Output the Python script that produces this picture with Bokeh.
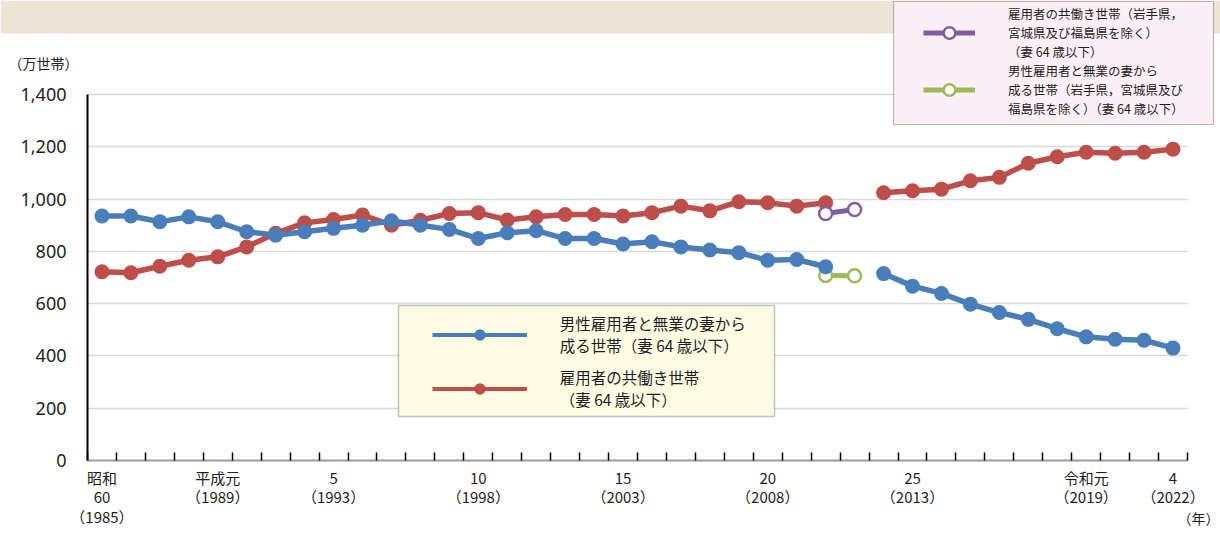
from bokeh.plotting import figure
from bokeh.models import (FixedTicker, NumeralTickFormatter, Legend, LegendItem,
                          BoxAnnotation, Label, Range1d)
from bokeh.embed import file_html
from bokeh.resources import INLINE

nan = float("nan")

# ---------------- data ----------------
years = list(range(1985, 2023))
housewife = [935, 935, 913, 932, 913, 875, 862, 875, 888, 900, 917, 900, 884,
             849, 871, 879, 849, 849, 828, 837, 817, 805, 795, 766, 769, 741,
             nan, 715, 667, 639, 598, 566, 540, 504, 473, 464, 460, 430]
dual_earner = [722, 718, 743, 766, 779, 817, 869, 909, 922, 939, 900, 919, 945,
               948, 920, 932, 941, 941, 935, 948, 973, 955, 990, 986, 973, 986,
               nan, 1024, 1032, 1038, 1070, 1083, 1137, 1162, 1179, 1175, 1179, 1191]
years_excl = [2010, 2011]
dual_excl = [945, 960]
housewife_excl = [708, 707]

y_ticks = [0, 200, 400, 600, 800, 1000, 1200, 1400]
label_years = [1985, 1989, 1993, 1998, 2003, 2008, 2013, 2019, 2022]
label_era = ["昭和\n60", "平成元", "5", "10", "15", "20", "25", "令和元", "4"]

name_housewife = "男性雇用者と無業の妻から\n成る世帯（妻 64 歳以下）"
name_dual = "雇用者の共働き世帯\n（妻 64 歳以下）"
name_dual_excl = "雇用者の共働き世帯（岩手県，\n宮城県及び福島県を除く）\n（妻 64 歳以下）"
name_housewife_excl = "男性雇用者と無業の妻から\n成る世帯（岩手県，宮城県及び\n福島県を除く）（妻 64 歳以下）"

# ---------------- style ----------------
BLUE = "#4A7EBB"
RED = "#BE4E4A"
PURPLE = "#7F5FA1"
GREEN = "#9BBB59"
TXT = "#1E1E1E"
JP = "Noto Sans CJK JP"

W, H = 1220, 533
# pixel helpers: plot area spans x 87..1187 (38 years) and y 460..94 (0..1400)
X0, XPX = 87.0, 1100.0 / 38.0
Y0, YPX = 460.0, 366.0 / 1400.0
def sx(px):
    return 1984.5 + (px - X0) / XPX
def sy(py):
    return (Y0 - py) / YPX

X_FIRST, X_LAST = years[0] - 0.5, years[-1] + 0.5

p = figure(width=W, height=H,
           x_range=Range1d(sx(0), sx(W)), y_range=Range1d(sy(H), sy(0)),
           output_backend="svg", toolbar_location=None, tools="",
           min_border=0, outline_line_color=None,
           background_fill_color="white", border_fill_color="white")

# x axis: boundary ticks as minor ticks, era labels as major labels
xa = p.xaxis[0]
xa.fixed_location = 0
xa.bounds = (X_FIRST, X_LAST)
xa.ticker = FixedTicker(ticks=label_years,
                        minor_ticks=[X_FIRST + k for k in range(len(years) + 1)])
xa.major_label_overrides = {yr: "%s\n（%d）" % (era, yr)
                            for yr, era in zip(label_years, label_era)}
xa.major_tick_line_color = None
xa.major_tick_in = 0
xa.major_tick_out = 0
xa.minor_tick_in = 8
xa.minor_tick_out = 0
xa.minor_tick_line_color = "black"
xa.minor_tick_line_width = 1.5
xa.axis_line_color = "#A0A0A0"
xa.axis_line_width = 2
xa.major_label_standoff = 6
xa.major_label_text_font = JP
xa.major_label_text_font_size = "15px"
xa.major_label_text_line_height = 0.95
xa.major_label_text_color = TXT

ya = p.yaxis[0]
ya.fixed_location = X_FIRST
ya.bounds = (y_ticks[0], y_ticks[-1])
ya.ticker = FixedTicker(ticks=y_ticks)
ya.formatter = NumeralTickFormatter(format="0,0")
ya.major_tick_in = 0
ya.major_tick_out = 0
ya.minor_tick_line_color = None
ya.axis_line_color = "black"
ya.axis_line_width = 2
ya.major_label_standoff = 21
ya.major_label_text_font = "Noto Sans"
ya.major_label_text_font_size = "18px"
ya.major_label_text_color = TXT

p.xgrid.visible = False
grid = p.ygrid[0]
grid.ticker = FixedTicker(ticks=y_ticks)
grid.grid_line_color = "#D9D9D9"
grid.grid_line_width = 1.5
if "cross_bounds" in grid.properties():
    grid.cross_bounds = (X_FIRST, X_LAST)
else:
    grid.visible = False
    p.segment(x0=[X_FIRST] * len(y_ticks), x1=[X_LAST] * len(y_ticks),
              y0=y_ticks, y1=y_ticks, line_color="#D9D9D9", line_width=1.5,
              level="underlay")

# background band + legend boxes
p.add_layout(BoxAnnotation(bottom=sy(33), fill_color="#EDE6D6", fill_alpha=1,
                           line_color=None, level="underlay"))
p.add_layout(BoxAnnotation(left=sx(893), right=sx(1213), top=sy(1), bottom=sy(124),
                           fill_color="#FCEFF6", fill_alpha=1, line_color="#222222",
                           line_width=1.2))
p.add_layout(BoxAnnotation(left=sx(398), right=sx(774), top=sy(305), bottom=sy(416),
                           fill_color="#FEFDE4", fill_alpha=1, line_color="#3A3A3A",
                           line_width=1.5))

# series
g_line = p.line(years_excl, housewife_excl, line_color=GREEN, line_width=5)
g_pts = p.scatter(years_excl, housewife_excl, size=13, fill_color="white",
                  line_color=GREEN, line_width=2.5)
p.line(years, dual_earner, line_color=RED, line_width=5.5)
p.scatter(years, dual_earner, size=15, fill_color=RED, line_color=None)
pu_line = p.line(years_excl, dual_excl, line_color=PURPLE, line_width=5)
pu_pts = p.scatter(years_excl, dual_excl, size=13, fill_color="white",
                   line_color=PURPLE, line_width=2.5)
p.line(years, housewife, line_color=BLUE, line_width=5.5)
p.scatter(years, housewife, size=15, fill_color=BLUE, line_color=None)

# legend sample renderers (hidden; styled like the reference legend swatches)
lb_line = p.line(years, housewife, line_color=BLUE, line_width=4, visible=False)
lb_dot = p.scatter(years, housewife, fill_color=BLUE, line_color=None, visible=False)
lr_line = p.line(years, dual_earner, line_color=RED, line_width=4, visible=False)
lr_dot = p.scatter(years, dual_earner, fill_color=RED, line_color=None, visible=False)

leg1 = Legend(items=[LegendItem(label=name_housewife, renderers=[lb_line, lb_dot]),
                     LegendItem(label=name_dual, renderers=[lr_line, lr_dot])],
              location=(431.7, H - 412), padding=0, margin=0, spacing=6,
              glyph_width=95, glyph_height=29, label_height=48, label_width=150,
              label_standoff=33, background_fill_alpha=0, border_line_color=None,
              inactive_fill_alpha=0,
              label_text_font=JP, label_text_font_size="15.5px",
              label_text_line_height=1.5, label_text_color=TXT)
leg2 = Legend(items=[LegendItem(label=name_dual_excl, renderers=[pu_line, pu_pts]),
                     LegendItem(label=name_housewife_excl, renderers=[g_line, g_pts])],
              location=(923, H - 117.5), padding=0, margin=0, spacing=0,
              glyph_width=52, glyph_height=29, label_height=55, label_width=150,
              label_standoff=33, background_fill_alpha=0, border_line_color=None,
              inactive_fill_alpha=0,
              label_text_font=JP, label_text_font_size="12.5px",
              label_text_line_height=1.4, label_text_color=TXT)
p.add_layout(leg1)
p.add_layout(leg2)

# unit labels
p.add_layout(Label(x=sx(8), y=sy(62), text="（万世帯）", text_align="left",
                   text_baseline="middle", text_font=JP, text_font_size="14px",
                   text_color=TXT))
p.add_layout(Label(x=sx(1219), y=sy(517), text="（年）", text_align="right",
                   text_baseline="middle", text_font=JP, text_font_size="14px",
                   text_color=TXT))

open("out.html", "w").write(file_html(p, INLINE))
